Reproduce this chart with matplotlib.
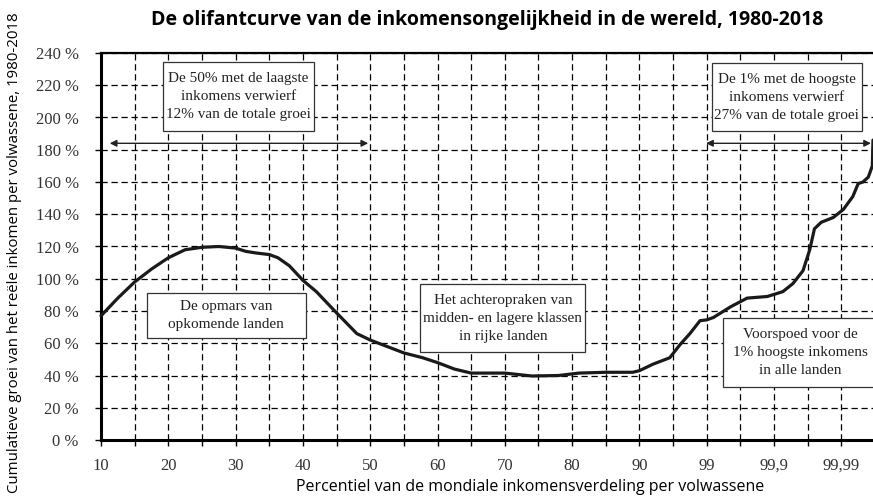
import matplotlib.pyplot as plt
from matplotlib.patches import Rectangle
from matplotlib.ticker import MultipleLocator

# Percentile labels (equally spaced on the axis)
pct_labels = ["10", "20", "30", "40", "50", "60", "70", "80", "90", "99", "99,9", "99,99"]

# Curve: position on the percentile axis (0 = 10th pct, 11 = 99.99th) and cumulative growth (%)
curve_pos = [0.0, 0.25, 0.5, 0.75, 1.0, 1.25, 1.5, 1.75, 2.0, 2.15, 2.3, 2.5, 2.63, 2.8, 3.0,
             3.2, 3.45, 3.8, 4.0, 4.25, 4.5, 4.78, 5.0, 5.25, 5.5, 6.0, 6.4, 6.8, 7.1, 7.5,
             7.9, 8.0, 8.2, 8.45, 8.6, 8.75, 8.9, 9.0, 9.1, 9.35, 9.6, 9.9, 10.13, 10.28,
             10.43, 10.53, 10.6, 10.7, 10.88, 11.03, 11.17, 11.25, 11.32, 11.4, 11.46, 11.47]
curve_growth = [77, 88, 98, 106, 113, 118, 119.5, 120, 119, 117, 116, 115, 113, 108, 99,
                92, 81, 66, 62, 58, 54, 51, 48, 44, 41.5, 41.5, 39.7, 40, 41.5, 42,
                42, 43, 47, 51, 59, 66, 74, 74.5, 76, 82.5, 88, 89, 92, 97,
                105, 118, 131, 135, 138, 143, 151, 159, 160, 163, 170, 186]

# Annotation texts
notes = [
    "De 50% met de laagste\ninkomens verwierf\n12% van de totale groei",
    "De 1% met de hoogste\ninkomens verwierf\n27% van de totale groei",
    "De opmars van\nopkomende landen",
    "Het achteropraken van\nmidden- en lagere klassen\nin rijke landen",
    "Voorspoed voor de\n1% hoogste inkomens\nin alle landen",
]
# box extents (x0, x1, y0, y1) in axis units
note_boxes = [
    (0.92, 3.16, 191.6, 234.4),
    (9.08, 11.31, 191.6, 233.8),
    (0.68, 3.05, 63.3, 91.2),
    (4.74, 7.19, 54.6, 96.7),
    (9.24, 11.55, 32.9, 75.7),
]
note_text_x = [2.04, 10.19, 1.86, 5.97, 10.39]

serif = "Liberation Serif"
sans = "Open Sans"

fig = plt.figure(figsize=(8.73, 4.98), dpi=100)
ax = fig.add_axes([101 / 873, 58 / 498, 772 / 873, 387 / 498])

ax.plot(curve_pos, curve_growth, color="#1a1a1a", lw=2.3, solid_joinstyle="round",
        solid_capstyle="round", zorder=4, clip_on=False)

ax.set_xlim(0, 11.47)
ax.set_ylim(0, 240)

ax.set_xticks(range(len(pct_labels)))
ax.set_xticklabels(pct_labels, family=serif, fontsize=12, color="#333333")
ax.xaxis.set_minor_locator(MultipleLocator(0.5))
ax.set_yticks(range(0, 241, 20))
ax.set_yticklabels([f"{v} %" for v in range(0, 241, 20)], family=serif, fontsize=12,
                   color="#333333")

ax.tick_params(axis="x", which="both", direction="out", length=4, width=1, pad=9)
ax.tick_params(axis="y", direction="out", length=4, width=1, pad=12)

ax.grid(True, which="both", axis="x", color="black", lw=0.9, ls=(0, (5, 3)))
ax.grid(True, which="major", axis="y", color="black", lw=0.9, ls=(0, (5, 3)))
ax.set_axisbelow(True)

ax.spines["right"].set_visible(False)
ax.spines["left"].set_linewidth(2.2)
ax.spines["bottom"].set_linewidth(2.2)
ax.spines["top"].set_linewidth(1.6)

for label, (x0, x1, y0, y1), tx in zip(notes, note_boxes, note_text_x):
    ax.add_patch(Rectangle((x0, y0), x1 - x0, y1 - y0, fc="white", ec="#333333",
                           lw=0.9, zorder=5, clip_on=False))
    ax.text(tx, (y0 + y1) / 2, label, family=serif, fontsize=11, ha="center",
            va="center", linespacing=1.5, color="#222222", zorder=6)

arrow = dict(arrowstyle="<|-|>", color="#222222", lw=1, mutation_scale=10,
             shrinkA=0, shrinkB=0)
ax.annotate("", xy=(0.13, 184), xytext=(3.97, 184), arrowprops=arrow, zorder=5)
ax.annotate("", xy=(8.99, 184), xytext=(11.44, 184), arrowprops=arrow, zorder=5)

fig.text(487 / 873, 1 - 20 / 498,
         "De olifantcurve van de inkomensongelijkheid in de wereld, 1980-2018",
         family=sans, fontweight="bold", fontsize=14, ha="center", va="center")
fig.text(530 / 873, 1 - 487 / 498,
         "Percentiel van de mondiale inkomensverdeling per volwassene",
         family=sans, fontsize=11.5, ha="center", va="center")
fig.text(15 / 873, 1 - 12 / 498,
         "Cumulatieve groei van het reële inkomen per volwassene, 1980-2018",
         family=sans, fontsize=10.8, rotation=90, ha="center", va="top")

fig.savefig("out.png", dpi=100)
